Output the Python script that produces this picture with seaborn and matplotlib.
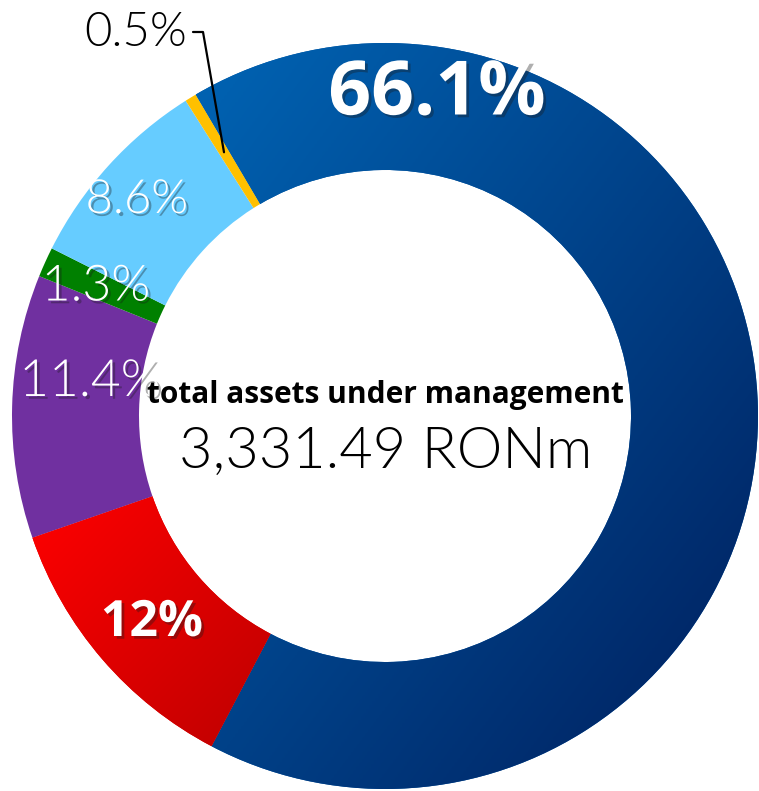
import numpy as np
import seaborn as sns
import matplotlib.pyplot as plt
import matplotlib.patheffects as pe
from matplotlib.colors import LinearSegmentedColormap

# Data (order = clockwise from the top)
labels = ['66.1%', '12%', '11.4%', '1.3%', '8.6%', '0.5%']
shares = [66.1, 12.0, 11.4, 1.3, 8.6, 0.5]
colors = ['#0058A8', '#E00000', '#7030A0', '#008000', '#66CCFF', '#FFC000']
title_line = 'total assets under management'
total_line = '3,331.49 RONm'

sns.set_theme(style='white')
plt.rcParams['font.family'] = ['Open Sans', 'DejaVu Sans']
LIGHT = ['Lato', 'DejaVu Sans']

W, H = 759, 791
fig = plt.figure(figsize=(W / 100, H / 100), dpi=100)
ax = fig.add_axes([0, 0, 1, 1])

cx, cy = 385, H - 416
R, r_in = 373, 246

wedges, _ = ax.pie(shares, colors=colors, radius=R, center=(cx, cy),
                   startangle=120.5, counterclock=False,
                   wedgeprops=dict(width=R - r_in, linewidth=0))

# diagonal gradients on the blue and red wedges
def shade(wedge, c_light, c_dark):
    cmap = LinearSegmentedColormap.from_list('g', [c_light, c_dark])
    bb = wedge.get_path().get_extents(wedge.get_transform())
    inv = ax.transData.inverted()
    (x0, y0), (x1, y1) = inv.transform([[bb.x0, bb.y0], [bb.x1, bb.y1]])
    X, Y = np.meshgrid(np.linspace(0, 1, 200), np.linspace(0, 1, 200))
    Z = (X + (1 - Y)) / 2
    im = ax.imshow(Z, cmap=cmap, extent=(x0, x1, y0, y1), origin='lower',
                   aspect='auto', zorder=wedge.get_zorder() + 0.1)
    im.set_clip_path(wedge)

shade(wedges[0], '#0064B4', '#001E5C')
shade(wedges[1], '#FF0000', '#BE0000')

shadow = [pe.SimplePatchShadow(offset=(2, -2), shadow_rgbFace='k', alpha=0.35), pe.Normal()]

# label positions in image pixels (x, y from top)
label_pos = [(437, 95), (152, 623), (90, 382), (96, 287), (137, 200)]
label_size = [54, 36, 37, 36, 34]
label_bold = [True, True, False, False, False]
for lab, (lx, ly), fs, b in zip(labels[:5], label_pos, label_size, label_bold):
    kw = dict(fontweight='bold') if b else dict(family=LIGHT, fontweight=300)
    ax.text(lx, H - ly, lab, color='white', fontsize=fs, ha='center', va='center',
            path_effects=shadow, zorder=5, **kw)

# small slice label with leader line
ang = np.deg2rad(120.5 + 360 * shares[-1] / sum(shares) / 2)
px, py = cx + 309 * np.cos(ang), cy + 309 * np.sin(ang)
ax.plot([193, 203, px], [H - 32, H - 32, py], color='black', lw=1.6, zorder=6)
ax.text(187, H - 33, labels[-1], color='black', fontsize=34, family=LIGHT, fontweight=300,
        ha='right', va='center', zorder=6)

ax.text(cx, H - 395, title_line, color='black', fontsize=21.5, fontweight='bold',
        ha='center', va='center', zorder=6)
ax.text(cx + 1, H - 452, total_line, color='black', fontsize=41.5, family=LIGHT, fontweight=300,
        ha='center', va='center', zorder=6)

ax.set_xlim(0, W)
ax.set_ylim(0, H)
ax.set_aspect('auto')
ax.axis('off')

plt.savefig('out.png', dpi=100)
